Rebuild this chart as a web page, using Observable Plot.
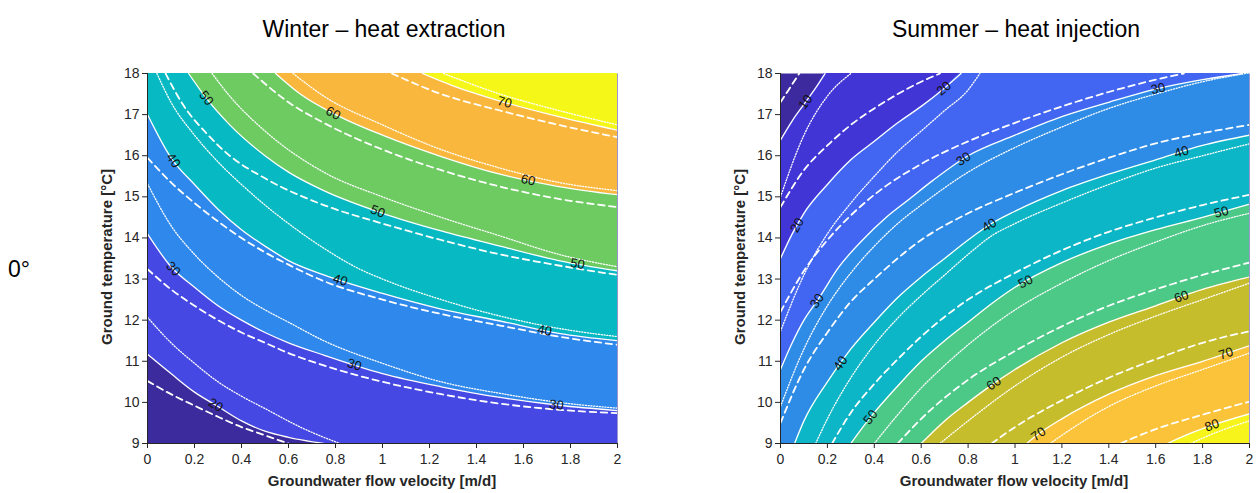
<!DOCTYPE html>
<html><head><meta charset="utf-8">
<script src="https://cdn.jsdelivr.net/npm/d3@7"></script>
<script src="https://cdn.jsdelivr.net/npm/@observablehq/plot@0.6"></script>
<style>
body{margin:0;background:#fff;font-family:Arial,"Liberation Sans",sans-serif;}
#root{position:relative;width:1256px;height:493px;overflow:hidden;}
.t{position:absolute;white-space:nowrap;color:#000;line-height:1;}
.title{font-size:23px;top:18px;transform:translateX(-50%);}
.xl{font-size:15px;font-weight:bold;top:473px;transform:translateX(-50%);color:#262626;}
.yl{font-size:15px;font-weight:bold;transform:translate(-50%,-50%) rotate(-90deg);color:#262626;}
.p{position:absolute;top:63px;}
</style></head><body><div id="root">
<div class="t title" style="left:384px">Winter – heat extraction</div>
<div class="t title" style="left:1016px">Summer – heat injection</div>
<div class="t" style="left:8px;top:258px;font-size:23px">0°</div>
<div class="t yl" style="left:106px;top:257px">Ground temperature [°C]</div>
<div class="t yl" style="left:739px;top:257px">Ground temperature [°C]</div>
<div class="t xl" style="left:382px">Groundwater flow velocity [m/d]</div>
<div class="t xl" style="left:1014px">Groundwater flow velocity [m/d]</div>
<div id="left" class="p" style="left:90px"></div>
<div id="right" class="p" style="left:720px"></div>
</div>
<script>
// ---- axes ----
const xTicks = [0,0.2,0.4,0.6,0.8,1,1.2,1.4,1.6,1.8,2];
const xTickLabels = ["0","0.2","0.4","0.6","0.8","1","1.2","1.4","1.6","1.8","2"];
const yTicks = [9,10,11,12,13,14,15,16,17,18];

// ---- Winter (heat extraction) ----
const winterColors = ["#3c2b9d","#4548e2","#2f88eb","#06b9c2","#6ecb62","#fab73d","#f5f719"];
const winterSolid = [
  {level:20, pts:[[0,11.17],[0.1,10.7],[0.2,10.25],[0.3,9.9],[0.4,9.55],[0.5,9.3],[0.6,9.15],[0.75,9.0]]},
  {level:30, pts:[[0,14.1],[0.1,13.3],[0.2,12.8],[0.3,12.35],[0.4,12.0],[0.5,11.7],[0.6,11.45],[0.75,11.15],[1,10.7],[1.25,10.38],[1.5,10.12],[1.75,9.93],[2,9.8]]},
  {level:40, pts:[[0,17.0],[0.1,15.95],[0.2,15.3],[0.3,14.7],[0.4,14.2],[0.5,13.8],[0.6,13.45],[0.75,13.1],[1,12.65],[1.25,12.27],[1.5,11.98],[1.75,11.68],[2,11.5]]},
  {level:50, pts:[[0.175,18],[0.25,17.4],[0.35,16.75],[0.5,16.0],[0.6,15.6],[0.75,15.15],[1,14.6],[1.25,14.17],[1.5,13.8],[1.75,13.45],[2,13.2]]},
  {level:60, pts:[[0.545,18],[0.65,17.5],[0.8,17.0],[1,16.5],[1.25,15.98],[1.5,15.55],[1.75,15.25],[2,15.05]]},
  {level:70, pts:[[1.17,18],[1.3,17.7],[1.5,17.33],[1.75,16.95],[2,16.62]]}
];
const winterDashed = [
  {level:20, pts:[[0,10.52],[0.1,10.2],[0.2,9.92],[0.3,9.65],[0.4,9.4],[0.5,9.2],[0.6,9.0],[0.8,8.7]]},
  {level:30, pts:[[0,13.24],[0.1,12.75],[0.2,12.35],[0.3,12.0],[0.4,11.7],[0.5,11.45],[0.6,11.2],[0.75,10.9],[1,10.5],[1.25,10.2],[1.5,9.97],[1.75,9.82],[2,9.74]]},
  {level:40, pts:[[0,15.95],[0.1,15.35],[0.2,14.85],[0.3,14.4],[0.4,14.0],[0.5,13.65],[0.6,13.35],[0.75,12.95],[1,12.5],[1.25,12.15],[1.5,11.87],[1.75,11.6],[2,11.4]]},
  {level:50, pts:[[0.077,18],[0.15,17.25],[0.25,16.55],[0.35,16.0],[0.5,15.45],[0.75,14.8],[1,14.35],[1.25,13.95],[1.5,13.6],[1.75,13.33],[2,13.1]]},
  {level:60, pts:[[0.45,18],[0.6,17.3],[0.75,16.8],[1,16.15],[1.25,15.65],[1.5,15.25],[1.75,14.95],[2,14.75]]},
  {level:70, pts:[[1.04,18],[1.25,17.5],[1.5,17.1],[1.75,16.75],[2,16.45]]}
];
const winterDotted = [
  {level:20, pts:[[0,12.07],[0.1,11.45],[0.2,10.95],[0.3,10.5],[0.4,10.15],[0.5,9.85],[0.65,9.4],[0.82,9.0],[1,8.7]]},
  {level:30, pts:[[0,15.32],[0.1,14.3],[0.2,13.6],[0.3,13.05],[0.4,12.6],[0.5,12.25],[0.6,11.95],[0.75,11.5],[1,10.95],[1.25,10.5],[1.5,10.22],[1.75,10.0],[2,9.86]]},
  {level:40, pts:[[0.04,18],[0.1,17.3],[0.2,16.5],[0.3,15.85],[0.4,15.3],[0.5,14.8],[0.6,14.35],[0.75,13.75],[0.9,13.25],[1,13.0],[1.25,12.5],[1.5,12.1],[1.75,11.8],[2,11.6]]},
  {level:50, pts:[[0.275,18],[0.35,17.45],[0.5,16.6],[0.75,15.6],[1,15.0],[1.25,14.5],[1.5,14.05],[1.75,13.6],[2,13.3]]},
  {level:60, pts:[[0.62,18],[0.75,17.45],[1,16.75],[1.25,16.15],[1.5,15.7],[1.75,15.35],[2,15.15]]},
  {level:70, pts:[[1.26,18],[1.5,17.5],[1.75,17.1],[2,16.75]]}
];
const winterLabels = [
  {level:20,x:0.29},{level:30,x:0.11},{level:30,x:0.88},{level:30,x:1.74},
  {level:40,x:0.11},{level:40,x:0.82},{level:40,x:1.69},
  {level:50,x:0.25},{level:50,x:0.98},{level:50,x:1.83},
  {level:60,x:0.79},{level:60,x:1.62},{level:70,x:1.52}
];

// ---- Summer (heat injection) ----
const summerColors = ["#3c2a9e","#4136d5","#4266f2","#2f8ce6","#0cb6c6","#4cc887","#c6bd2c","#fbc33a","#f6f41a"];
const summerSolid = [
  {level:10, pts:[[0,16.38],[0.05,16.85],[0.1,17.25],[0.15,17.65],[0.19,18]]},
  {level:20, pts:[[0,13.5],[0.05,14.1],[0.1,14.6],[0.2,15.3],[0.3,15.9],[0.4,16.35],[0.5,16.8],[0.6,17.2],[0.7,17.65],[0.77,18]]},
  {level:30, pts:[[0,10.8],[0.05,11.45],[0.1,12.0],[0.16,12.5],[0.25,13.3],[0.35,13.95],[0.45,14.5],[0.55,14.95],[0.65,15.4],[0.8,16.0],[1,16.5],[1.2,16.95],[1.4,17.3],[1.6,17.62],[1.8,17.85],[1.97,18]]},
  {level:40, pts:[[0.06,9],[0.1,9.55],[0.2,10.5],[0.3,11.3],[0.4,11.95],[0.5,12.55],[0.6,13.05],[0.7,13.5],[0.8,13.95],[0.9,14.35],[1,14.65],[1.2,15.15],[1.4,15.55],[1.6,15.9],[1.8,16.25],[2,16.5]]},
  {level:50, pts:[[0.3,9],[0.384,9.64],[0.5,10.4],[0.6,11.0],[0.7,11.5],[0.8,11.95],[0.9,12.4],[1,12.8],[1.2,13.4],[1.4,13.85],[1.6,14.2],[1.8,14.5],[2,14.82]]},
  {level:60, pts:[[0.6,9],[0.7,9.55],[0.8,10.0],[0.9,10.42],[1,10.8],[1.2,11.45],[1.4,11.95],[1.6,12.35],[1.8,12.75],[2,13.05]]},
  {level:70, pts:[[1.05,9],[1.1,9.23],[1.2,9.6],[1.4,10.2],[1.6,10.65],[1.8,11.0],[2,11.38]]},
  {level:80, pts:[[1.65,9],[1.75,9.25],[1.84,9.44],[2,9.72]]}
];
const summerDashed = [
  {level:10, pts:[[0,17.3],[0.04,17.65],[0.08,18]]},
  {level:20, pts:[[0,14.75],[0.1,15.65],[0.2,16.25],[0.3,16.75],[0.4,17.15],[0.5,17.5],[0.6,17.8],[0.68,18]]},
  {level:30, pts:[[0,12.2],[0.1,13.2],[0.2,13.95],[0.3,14.55],[0.4,15.05],[0.6,15.8],[0.8,16.35],[1,16.8],[1.2,17.2],[1.4,17.55],[1.6,17.85],[1.72,18]]},
  {level:40, pts:[[0,9.5],[0.1,10.8],[0.2,11.7],[0.3,12.45],[0.4,13.0],[0.6,13.95],[0.8,14.6],[1,15.1],[1.2,15.55],[1.4,15.95],[1.6,16.3],[1.8,16.55],[2,16.75]]},
  {level:50, pts:[[0.22,9],[0.3,9.75],[0.4,10.45],[0.5,11.05],[0.6,11.6],[0.8,12.5],[1,13.15],[1.2,13.7],[1.4,14.15],[1.6,14.5],[1.8,14.8],[2,15.05]]},
  {level:60, pts:[[0.5,9],[0.6,9.6],[0.8,10.55],[1,11.25],[1.2,11.85],[1.4,12.35],[1.6,12.75],[1.8,13.1],[2,13.4]]},
  {level:70, pts:[[0.9,9],[1,9.4],[1.2,10.05],[1.4,10.6],[1.6,11.05],[1.8,11.45],[2,11.73]]},
  {level:80, pts:[[1.45,9],[1.6,9.35],[1.8,9.7],[2,10.02]]}
];
const summerDotted = [
  {level:10, pts:[[0,15.0],[0.1,16.5],[0.2,17.45],[0.3,18]]},
  {level:20, pts:[[0,11.73],[0.1,13.1],[0.2,14.1],[0.3,14.85],[0.4,15.5],[0.5,16.1],[0.6,16.6],[0.7,17.1],[0.8,17.6],[0.85,18]]},
  {level:30, pts:[[0,9.9],[0.1,11.3],[0.2,12.35],[0.3,13.15],[0.4,13.8],[0.5,14.35],[0.6,14.8],[0.8,15.6],[1,16.2],[1.2,16.7],[1.4,17.15],[1.6,17.5],[1.8,17.8],[2,18.02]]},
  {level:40, pts:[[0.15,9],[0.2,9.6],[0.3,10.6],[0.4,11.4],[0.5,12.05],[0.6,12.6],[0.7,13.1],[0.8,13.6],[0.9,14.05],[1,14.35],[1.2,14.85],[1.4,15.3],[1.6,15.7],[1.8,16.0],[2,16.29]]},
  {level:50, pts:[[0.4,9],[0.5,9.7],[0.6,10.35],[0.7,10.9],[0.8,11.4],[1,12.25],[1.2,12.9],[1.4,13.45],[1.6,13.9],[1.8,14.3],[2,14.6]]},
  {level:60, pts:[[0.68,9],[0.8,9.55],[1,10.4],[1.2,11.1],[1.4,11.65],[1.6,12.1],[1.8,12.5],[2,12.9]]},
  {level:70, pts:[[1.15,9],[1.2,9.2],[1.4,9.9],[1.6,10.4],[1.8,10.8],[2,11.2]]},
  {level:80, pts:[[1.75,9],[1.85,9.25],[2,9.55]]}
];
const summerLabels = [
  {level:10,x:0.107},{level:20,x:0.071},{level:20,x:0.697},
  {level:30,x:0.156},{level:30,x:0.78},{level:30,x:1.61},
  {level:40,x:0.256},{level:40,x:0.89},{level:40,x:1.71},
  {level:50,x:0.384},{level:50,x:1.045},{level:50,x:1.88},
  {level:60,x:0.91},{level:60,x:1.71},{level:70,x:1.1},{level:70,x:1.9},{level:80,x:1.84}
];

// ---- drawing ----
const rows = pts => pts.map(([x,y]) => ({x, y}));
function interp(pts, x) {
  if (x <= pts[0][0]) return pts[0][1];
  for (let i = 0; i < pts.length - 1; i++) {
    const [x0,y0] = pts[i], [x1,y1] = pts[i+1];
    if (x >= x0 && x <= x1) return y0 + (y1 - y0) * (x - x0) / (x1 - x0);
  }
  return pts[pts.length-1][1];
}
function panel({solid, dashed, dotted, colors, labels, upward, width, ml, mr}) {
  const H = 430, mt = 10, mb = 50;
  const kx = (width - ml - mr) / 2, ky = (H - mt - mb) / 9;
  const marks = [Plot.frame({fill: colors[0], stroke: "none"})];
  solid.forEach((c, i) => {
    const r = rows(c.pts);
    if (r[r.length-1].x < 2) r.push({x: 2.1, y: upward ? 8 : 19});
    marks.push(Plot.areaY(r, upward
      ? {x:"x", y1:"y", y2:() => 19, fill: colors[i+1], curve:"monotone-x", clip:true}
      : {x:"x", y1:() => 8, y2:"y", fill: colors[i+1], curve:"monotone-x", clip:true}));
  });
  const styles = [[dotted, 1.3, "1.1,1.7"], [dashed, 1.8, "6.5,4.5"], [solid, 1.3, null]];
  for (const [set, w, dash] of styles) {
    for (const c of set) {
      marks.push(Plot.line(rows(c.pts), {x:"x", y:"y", stroke:"white", strokeWidth:w,
        strokeDasharray: dash, curve:"monotone-x", clip:true}));
    }
  }
  const lab = labels.map(l => {
    const pts = solid.find(c => c.level === l.level).pts;
    const y = interp(pts, l.x);
    const d = 0.03;
    const dy = interp(pts, l.x + d) - interp(pts, l.x - d);
    const a = Math.atan2(-dy * ky, 2 * d * kx) * 180 / Math.PI;
    return {x: l.x, y, t: String(l.level), a};
  });
  marks.push(Plot.text(lab, {x:"x", y:"y", text:"t", rotate:"a", fontSize:13, fill:"#111"}));
  marks.push(Plot.ruleX([0], {y1:9, y2:18, stroke:"#262626"}));
  marks.push(Plot.ruleY([9], {x1:0, x2:2, stroke:"#262626"}));
  marks.push(Plot.axisX({ticks: xTicks, tickFormat: d => xTickLabels[xTicks.findIndex(v => Math.abs(v - d) < 1e-9)],
    tickSize:5, tickPadding:6, fontSize:14, label:null, color:"#262626"}));
  marks.push(Plot.axisY({ticks: yTicks, tickSize:5, tickPadding:3, fontSize:14, label:null, color:"#262626"}));
  return Plot.plot({
    width, height: H, marginLeft: ml, marginRight: mr, marginTop: mt, marginBottom: mb,
    style: {fontFamily: "Arial, 'Liberation Sans', sans-serif", background: "transparent", overflow: "visible"},
    x: {domain: [0, 2]}, y: {domain: [9, 18]},
    marks
  });
}
document.getElementById("left").append(panel({solid: winterSolid, dashed: winterDashed, dotted: winterDotted,
  colors: winterColors, labels: winterLabels, upward: true, width: 540, ml: 57, mr: 13}));
document.getElementById("right").append(panel({solid: summerSolid, dashed: summerDashed, dotted: summerDotted,
  colors: summerColors, labels: summerLabels, upward: false, width: 536, ml: 60, mr: 7}));
</script>
</body></html>
